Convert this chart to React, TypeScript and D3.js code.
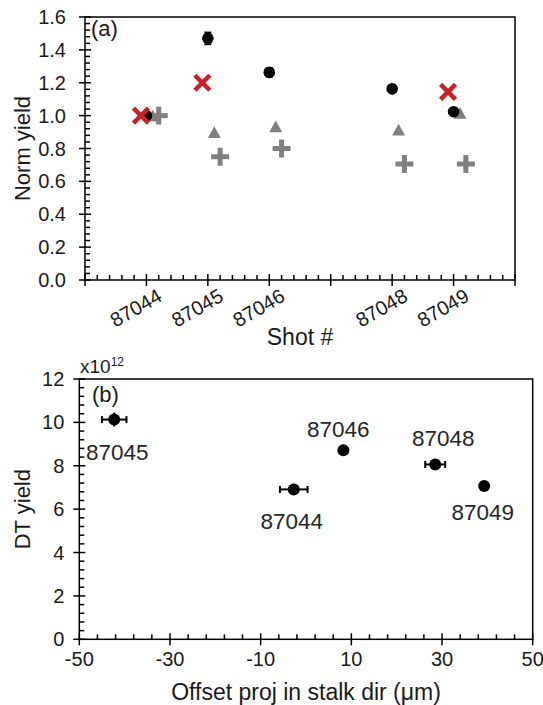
import React from "react";
import * as d3 from "d3";

// ---------- Panel (a) data ----------
const shotLabels = ["87044", "87045", "87046", "87048", "87049"];
const shotNumbers = [87044, 87045, 87046, 87048, 87049];
const circleYield = [1.0, 1.47, 1.263, 1.163, 1.024];
const circleErr = [0.015, 0.036, 0.027, 0.012, 0.012];
const crossShots = [87044, 87045, 87049];
const crossYield = [1.0, 1.2, 1.145];
const triangleYield = [1.0, 0.9, 0.935, 0.915, 1.017];
const plusYield = [1.0, 0.75, 0.8, 0.706, 0.706];
// horizontal shot offsets for each marker series
const crossShift = -0.09;
const triangleShift = 0.105;
const plusShift = 0.2;
const yTicksA = [0, 0.2, 0.4, 0.6, 0.8, 1.0, 1.2, 1.4, 1.6];

// ---------- Panel (b) data ----------
const offsetProj = [-2.7, -42.3, 8.24, 28.5, 39.3];
const offsetErr = [3.05, 2.7, 0.4, 2.2, 0.3];
const dtYield = [6.91, 10.13, 8.72, 8.06, 7.07]; // x10^12
const dtErr = [0.1, 0.32, 0.18, 0.1, 0.1];
const xTicksB = [-50, -30, -10, 10, 30, 50];
const yTicksB = [0, 2, 4, 6, 8, 10, 12];
// label placement relative to each point (px): [dx, dy]
const labelShift = [[-2, 40], [3, 40], [-5, -13], [8, -18], [-1.5, 34]];

const FONT = "'Liberation Sans', Arial, Helvetica, sans-serif";
const GRAY = "#808080";
const RED = "#C8202A";
const INK = "#1a1a1a";

export default function App() {
  const W = 543, H = 705;
  // panel a
  const A = { l: 85, r: 515, t: 17, b: 280 };
  const xa = d3.scaleLinear().domain([87043, 87050]).range([A.l, A.r]);
  const ya = d3.scaleLinear().domain([0, 1.6]).range([A.b, A.t]);
  // panel b
  const B = { l: 79.3, r: 532.7, t: 379, b: 639.3 };
  const xb = d3.scaleLinear().domain([-50, 50]).range([B.l, B.r]);
  const yb = d3.scaleLinear().domain([0, 12]).range([B.b, B.t]);

  const sw = 1.5;
  const majA = d3.range(87043, 87051, 1);
  const minA = d3.range(0, 36).map((i) => 87043 + i * 0.2).filter((v) => Math.abs(v - Math.round(v)) > 1e-6);
  const minYA = d3.range(0, 41).map((i) => i * 0.04).filter((v) => Math.abs(v / 0.2 - Math.round(v / 0.2)) > 1e-6);
  const majXB = d3.range(-50, 51, 20);
  const minXB = d3.range(-50, 51, 4).filter((v) => (v + 50) % 20 !== 0);
  const minYB = d3.range(0, 31).map((i) => i * 0.4).filter((v) => Math.abs(v / 2 - Math.round(v / 2)) > 1e-6);

  const plus = (cx: number, cy: number, k: number) => (
    <g key={"p" + k} stroke={GRAY} strokeWidth={5}>
      <line x1={cx - 9} x2={cx + 9} y1={cy} y2={cy} />
      <line x1={cx} x2={cx} y1={cy - 9} y2={cy + 9} />
    </g>
  );
  const cross = (cx: number, cy: number, k: number) => (
    <g key={"x" + k} stroke={RED} strokeWidth={4.5}>
      <line x1={cx - 7.5} x2={cx + 7.5} y1={cy - 7.5} y2={cy + 7.5} />
      <line x1={cx - 7.5} x2={cx + 7.5} y1={cy + 7.5} y2={cy - 7.5} />
    </g>
  );
  const tri = (cx: number, cy: number, k: number) => {
    const s = 13;
    const h = s * 0.9;
    return (
      <path key={"t" + k} fill={GRAY}
        d={`M${cx},${cy - h / 2}L${cx + s / 2},${cy + h / 2}L${cx - s / 2},${cy + h / 2}Z`} />
    );
  };

  return (
    <svg width={W} height={H} style={{ position: "absolute", left: 0, top: 0, background: "#fff" }}
      fontFamily={FONT}>
      <rect width={W} height={H} fill="#fff" />
      {/* ================= Panel (a) ================= */}
      <g>
        {minA.map((v, i) => (
          <line key={"mxa" + i} x1={xa(v)} x2={xa(v)} y1={A.b} y2={A.b - 5} stroke="#000" strokeWidth={sw} />
        ))}
        {majA.map((v, i) => (
          <line key={"Mxa" + i} x1={xa(v)} x2={xa(v)} y1={A.b + 6} y2={A.b - 6} stroke="#000" strokeWidth={sw} />
        ))}
        {minYA.map((v, i) => (
          <line key={"mya" + i} x1={A.l} x2={A.l + 5} y1={ya(v)} y2={ya(v)} stroke="#000" strokeWidth={sw} />
        ))}
        {yTicksA.map((v, i) => (
          <line key={"Mya" + i} x1={A.l - 6} x2={A.l + 6} y1={ya(v)} y2={ya(v)} stroke="#000" strokeWidth={sw} />
        ))}
        <rect x={A.l} y={A.t} width={A.r - A.l} height={A.b - A.t} fill="none" stroke="#000" strokeWidth={sw} />
        {yTicksA.map((v, i) => (
          <text key={"lya" + i} x={A.l - 19} y={ya(v)} dy="0.35em" textAnchor="end" fontSize={20} fill={INK}>
            {d3.format(".1f")(v)}
          </text>
        ))}
        {shotNumbers.map((s, i) => (
          <text key={"lxa" + i} transform={`translate(${xa(s) + 17},${A.b + 20}) rotate(-30)`}
            textAnchor="end" fontSize={20} fill={INK}>
            {shotLabels[i]}
          </text>
        ))}
        <text x={(A.l + A.r) / 2} y={345} textAnchor="middle" fontSize={23} fill={INK}>Shot #</text>
        <text transform={`translate(30,${(A.t + A.b) / 2}) rotate(-90)`} textAnchor="middle" fontSize={22} fill={INK}>
          Norm yield
        </text>
        <text x={91} y={36} fontSize={22} fill={INK}>(a)</text>

        {/* data markers */}
        {shotNumbers.map((s, i) => plus(xa(s + plusShift), ya(plusYield[i]), i))}
        {shotNumbers.map((s, i) => tri(xa(s + triangleShift), ya(triangleYield[i]), i))}
        {shotNumbers.map((s, i) => (
          <g key={"c" + i} stroke="#000" strokeWidth={1.8}>
            <line x1={xa(s)} x2={xa(s)} y1={ya(circleYield[i] - circleErr[i])} y2={ya(circleYield[i] + circleErr[i])} />
            <line x1={xa(s) - 3.5} x2={xa(s) + 3.5} y1={ya(circleYield[i] - circleErr[i])} y2={ya(circleYield[i] - circleErr[i])} />
            <line x1={xa(s) - 3.5} x2={xa(s) + 3.5} y1={ya(circleYield[i] + circleErr[i])} y2={ya(circleYield[i] + circleErr[i])} />
            <circle cx={xa(s)} cy={ya(circleYield[i])} r={5.8} fill="#000" stroke="none" />
          </g>
        ))}
        {crossShots.map((s, i) => cross(xa(s + crossShift), ya(crossYield[i]), i))}
      </g>

      {/* ================= Panel (b) ================= */}
      <g>
        {minXB.map((v, i) => (
          <line key={"mxb" + i} x1={xb(v)} x2={xb(v)} y1={B.b} y2={B.b - 5} stroke="#000" strokeWidth={sw} />
        ))}
        {majXB.map((v, i) => (
          <line key={"Mxb" + i} x1={xb(v)} x2={xb(v)} y1={B.b + 6} y2={B.b - 6} stroke="#000" strokeWidth={sw} />
        ))}
        {minYB.map((v, i) => (
          <line key={"myb" + i} x1={B.l} x2={B.l + 5} y1={yb(v)} y2={yb(v)} stroke="#000" strokeWidth={sw} />
        ))}
        {yTicksB.map((v, i) => (
          <line key={"Myb" + i} x1={B.l - 6} x2={B.l + 6} y1={yb(v)} y2={yb(v)} stroke="#000" strokeWidth={sw} />
        ))}
        <rect x={B.l} y={B.t} width={B.r - B.l} height={B.b - B.t} fill="none" stroke="#000" strokeWidth={sw} />
        {yTicksB.map((v, i) => (
          <text key={"lyb" + i} x={B.l - 15} y={yb(v)} dy="0.35em" textAnchor="end" fontSize={20} fill={INK}>
            {v}
          </text>
        ))}
        {xTicksB.map((v, i) => (
          <text key={"lxb" + i} x={xb(v)} y={B.b + 27} textAnchor="middle" fontSize={20} fill={INK}>
            {v}
          </text>
        ))}
        <text x={(B.l + B.r) / 2} y={700} textAnchor="middle" fontSize={23} fill={INK}>
          Offset proj in stalk dir (μm)
        </text>
        <text transform={`translate(30,${(B.t + B.b) / 2}) rotate(-90)`} textAnchor="middle" fontSize={22} fill={INK}>
          DT yield
        </text>
        <text x={80} y={373} fontSize={19} fill={INK}>
          x10<tspan fontSize={12} dy={-7}>12</tspan>
        </text>
        <text x={92} y={402} fontSize={22} fill={INK}>(b)</text>

        {offsetProj.map((v, i) => {
          const cx = xb(v), cy = yb(dtYield[i]);
          const x0 = xb(v - offsetErr[i]), x1 = xb(v + offsetErr[i]);
          const y0 = yb(dtYield[i] - dtErr[i]), y1 = yb(dtYield[i] + dtErr[i]);
          return (
            <g key={"b" + i} stroke="#000" strokeWidth={2}>
              <line x1={x0} x2={x1} y1={cy} y2={cy} />
              <line x1={x0} x2={x0} y1={cy - 3.5} y2={cy + 3.5} />
              <line x1={x1} x2={x1} y1={cy - 3.5} y2={cy + 3.5} />
              <line x1={cx} x2={cx} y1={y0} y2={y1} />
              <circle cx={cx} cy={cy} r={6} fill="#000" stroke="none" />
            </g>
          );
        })}
        {offsetProj.map((v, i) => (
          <text key={"lb" + i} x={xb(v) + labelShift[i][0]} y={yb(dtYield[i]) + labelShift[i][1]}
            textAnchor="middle" fontSize={22.5} fill="#262626">
            {shotLabels[i]}
          </text>
        ))}
      </g>
    </svg>
  );
}
